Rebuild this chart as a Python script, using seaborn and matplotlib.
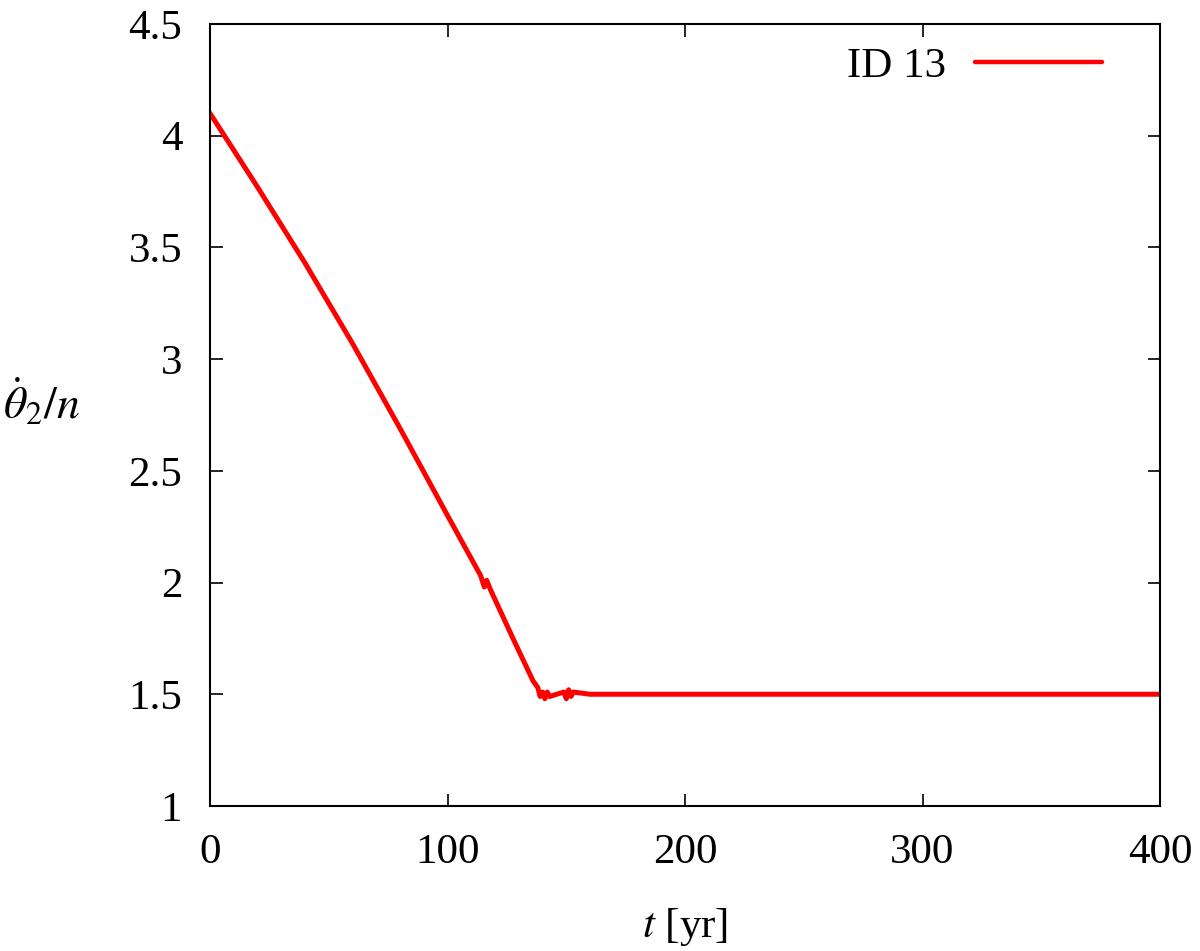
import numpy as np
import matplotlib
matplotlib.use("Agg")
import matplotlib.pyplot as plt
import pandas as pd
import seaborn as sns

# values
t_yr = [0, 20, 40, 60, 80, 100, 114, 115.5, 116.5, 118, 128, 136, 138, 139, 140, 141, 142, 143,
        146, 149, 150, 151, 152, 153, 160, 200, 250, 300, 350, 400]
theta_dot = [4.10, 3.77, 3.43, 3.07, 2.69, 2.30, 2.03, 1.98, 2.01, 1.97, 1.74, 1.56, 1.53,
             1.49, 1.51, 1.48, 1.51, 1.49, 1.50, 1.51, 1.48, 1.52, 1.49, 1.51, 1.50, 1.50,
             1.50, 1.50, 1.50, 1.50]
series_name = "ID 13"
x_ticks = [0, 100, 200, 300, 400]
y_ticks = [1, 1.5, 2, 2.5, 3, 3.5, 4, 4.5]
y_ticklabels = ["1", "1.5", "2", "2.5", "3", "3.5", "4", "4.5"]

df = pd.DataFrame({"t": t_yr, "v": theta_dot, "run": series_name})

sns.set_style("ticks")
plt.rcParams["font.family"] = ["Liberation Serif", "DejaVu Serif"]
plt.rcParams["mathtext.fontset"] = "stix"
plt.rcParams["text.color"] = "black"
plt.rcParams["axes.labelcolor"] = "black"

fig = plt.figure(figsize=(12, 9.51), dpi=100)
ax = fig.add_axes([0.175, 0.1525, 0.7917, 0.8223])

sns.lineplot(data=df, x="t", y="v", hue="run", palette=["#ff0000"], linewidth=3.6, ax=ax)

ax.set_xlim(0, 400)
ax.set_ylim(1, 4.5)
ax.set_xticks(x_ticks)
ax.set_yticks(y_ticks)
ax.set_yticklabels(y_ticklabels)
ax.tick_params(direction="in", length=9, width=1.2, labelsize=31, pad=20,
               top=True, right=True, colors="black")
for s in ax.spines.values():
    s.set_visible(True)
    s.set_linewidth(1.5)
    s.set_color("black")

ax.set_xlabel(r"$t$ [yr]", fontsize=31, labelpad=24)
ax.set_ylabel(r"$\dot{\theta}_2/n$", fontsize=33, rotation=0)
ax.yaxis.set_label_coords(-0.177, 0.482)

leg = ax.legend(loc="upper right", bbox_to_anchor=(0.957, 0.993), frameon=False,
                fontsize=31, markerfirst=False, handlelength=2.95, borderaxespad=0,
                handletextpad=0.68)
for h in leg.get_lines():
    h.set_linewidth(3.2)

fig.savefig("out.png", dpi=100)
